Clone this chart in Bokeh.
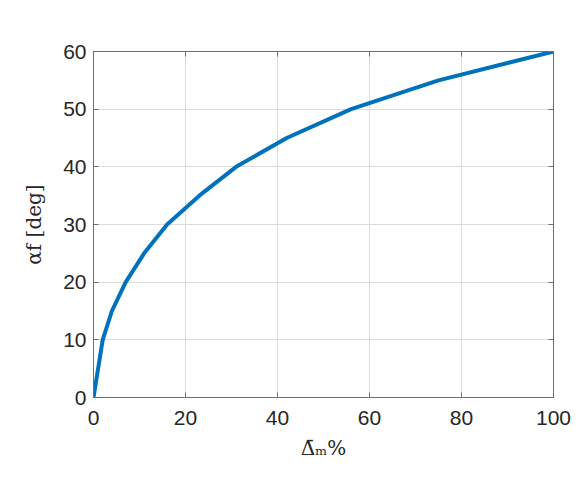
from bokeh.plotting import figure
from bokeh.models import Range1d, LinearAxis, FixedTicker
from bokeh.embed import file_html
from bokeh.resources import INLINE

delta_m = [0, 2, 4, 7, 11, 16, 23, 31, 42, 56, 75, 100]
alpha_f = [0, 10, 15, 20, 25, 30, 35, 40, 45, 50, 55, 60]
x_ticks = [0, 20, 40, 60, 80, 100]
y_ticks = [0, 10, 20, 30, 40, 50, 60]
x_label = "Δ̄ₘ%"
y_label = "αf [deg]"

W, H = 578, 473
BL, BR, BT, BB = 93, 25, 51, 76
p = figure(width=W, height=H, output_backend="svg", toolbar_location=None,
           x_range=Range1d(0, 100), y_range=Range1d(0, 60),
           min_border_left=BL, min_border_right=BR, min_border_top=BT, min_border_bottom=BB,
           x_axis_location=None, y_axis_location=None)
p.background_fill_color = "white"
p.border_fill_color = "white"
p.outline_line_color = "#6e6e6e"
p.outline_line_width = 1

axcol = "#6e6e6e"
def style(ax, labels=True):
    ax.axis_line_color = axcol
    ax.major_tick_line_color = axcol
    ax.major_tick_in = 5
    ax.major_tick_out = 0
    ax.minor_tick_line_color = None
    ax.major_label_text_font = "Liberation Sans"
    ax.major_label_text_font_size = "21px"
    ax.major_label_text_color = "#262626"
    ax.axis_label_text_font = "DejaVu Serif"
    ax.axis_label_text_font_style = "normal"
    ax.axis_label_text_font_size = "20px"
    ax.axis_label_text_color = "#262626"
    if not labels:
        ax.major_label_text_font_size = "0px"
        ax.major_label_text_alpha = 0

xb = LinearAxis(ticker=FixedTicker(ticks=x_ticks), axis_label=x_label)
style(xb)
xb.major_label_standoff = 13
xb.axis_label_standoff = 8
p.add_layout(xb, "below")
xt = LinearAxis(ticker=FixedTicker(ticks=x_ticks))
style(xt, labels=False)
p.add_layout(xt, "above")
yl = LinearAxis(ticker=FixedTicker(ticks=y_ticks), axis_label=y_label)
style(yl)
yl.major_label_standoff = 7
yl.axis_label_standoff = 14
p.add_layout(yl, "left")
yr = LinearAxis(ticker=FixedTicker(ticks=y_ticks))
style(yr, labels=False)
p.add_layout(yr, "right")

p.xgrid.ticker = FixedTicker(ticks=x_ticks)
p.ygrid.ticker = FixedTicker(ticks=y_ticks)
p.grid.grid_line_color = "#dcdcdc"
p.grid.grid_line_width = 1

p.line(delta_m, alpha_f, line_width=4, line_color="#0072BD")

open("out.html", "w").write(file_html(p, INLINE))
